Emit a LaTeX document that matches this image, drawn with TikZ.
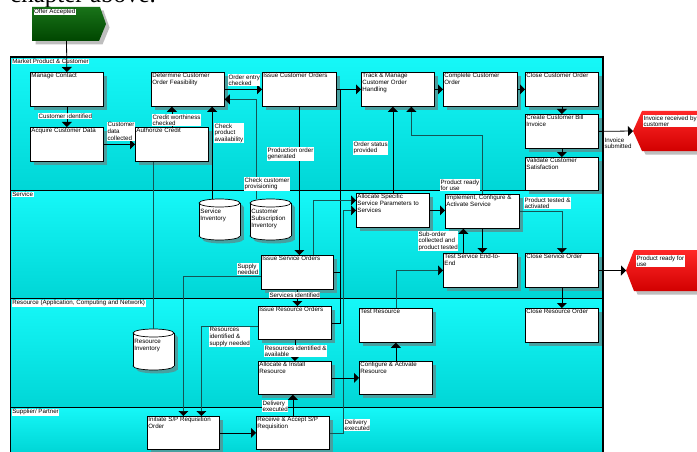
\documentclass[tikz,border=0pt]{standalone}
\usepackage{fontspec}
\setmainfont{Liberation Sans}
\newfontfamily\pagefont{Liberation Serif}
\usetikzlibrary{arrows.meta,shadows,calc}
\definecolor{cyanT}{RGB}{22,248,248}
\definecolor{cyanB}{RGB}{0,214,214}
\definecolor{shadowc}{RGB}{72,160,160}
\definecolor{shadowg}{RGB}{190,190,190}
\definecolor{tealline}{RGB}{20,85,85}
\definecolor{redT}{RGB}{255,40,40}
\definecolor{redB}{RGB}{210,0,0}
\definecolor{grnT}{RGB}{25,115,25}
\definecolor{grnB}{RGB}{0,70,0}
\newcommand\lblfont{\fontsize{6.2}{6.8}\selectfont}
\tikzset{
 proc/.style={draw=black, line width=0.8pt, fill=white, anchor=north west, inner sep=0pt,
   drop shadow={fill=shadowc, opacity=1, shadow xshift=3.5pt, shadow yshift=-3.5pt}},
 inlbl/.style={font=\lblfont, anchor=north west, inner sep=1.2pt, align=left},
 cl/.style={font=\lblfont, fill=white, inner sep=0.4pt, align=left, anchor=north west},
 lanelbl/.style={font=\lblfont, fill=white, inner sep=0.6pt, anchor=north west},
 conn/.style={draw=black, line width=0.8pt, -{Triangle[width=10pt,length=5pt]}},
 tconn/.style={draw=tealline, line width=0.6pt, -{Triangle[width=10pt,length=5pt,color=black]}},
 tline/.style={draw=tealline, line width=0.6pt},
 bline/.style={draw=black, line width=0.8pt},
 lane/.style={top color=cyanT, bottom color=cyanB, draw=black, line width=1pt},
 cyl/.style={draw=black, line width=0.7pt, fill=white},
 evshadow/.style={drop shadow={fill=shadowg, opacity=1, shadow xshift=3.5pt, shadow yshift=-3.5pt}},
 greenev/.style={top color=grnT, bottom color=grnB, evshadow},
 redev/.style={top color=redT, bottom color=redB, evshadow},
}
\newcommand\procbox[6]{\node[proc, minimum width=#4pt, minimum height=#5pt, label={[inlbl]north west:{#6}}] (#1) at (#2,#3) {};}
\newcommand\cylnode[4]{%
  \fill[shadowc] (#2+3.5,#3+7.5) rectangle (#2+44.5,#3+40.5);
  \fill[shadowc] (#2+24,#3+7.5) ellipse (20.5 and 4);
  \fill[shadowc] (#2+24,#3+40.5) ellipse (20.5 and 4);
  \filldraw[cyl] (#2+20.5,#3+37) ellipse (20.5 and 4);
  \fill[white] (#2,#3+4) rectangle (#2+41,#3+37);
  \draw[cyl] (#2,#3+4) -- (#2,#3+37) (#2+41,#3+4) -- (#2+41,#3+37);
  \filldraw[cyl] (#2+20.5,#3+4) ellipse (20.5 and 4);
  \node[inner sep=0pt, minimum width=41pt, minimum height=41pt, anchor=north west,
    label={[inlbl, yshift=-9pt]north west:{#4}}] (#1) at (#2,#3) {};}
\begin{document}
\begin{tikzpicture}[x=1pt,y=-1pt]
\useasboundingbox (0,0) rectangle (697,452);
\fill[white] (0,0) rectangle (697,452);
\node[font=\pagefont\fontsize{25}{25}\selectfont, anchor=base west, inner sep=0pt] (pg) at (10,3) {chapter above.};
% lanes
\path[lane] (10,57) rectangle (603,190);
\path[lane] (10,190) rectangle (603,298);
\path[lane] (10,298) rectangle (603,407);
\path[lane] (10,407) rectangle (603,452);
\draw[black, line width=1.6pt] (603,57) -- (603,452);
\draw[black, line width=1.4pt] (10,57) -- (603,57);
\node[lanelbl] (ln1) at (11.5,58.5) {Market Product \& Customer};
\node[lanelbl] (ln2) at (11.5,191.5) {Service};
\node[lanelbl] (ln3) at (11.5,299.5) {Resource (Application, Computing and Network)};
\node[lanelbl] (ln4) at (11.5,408.5) {Supplier/ Partner};
% external events
\path[greenev] (32,7) -- (100,7) -- (106,24) -- (99,41) -- (32,41) -- cycle;
\path[redev] (633,131) -- (642,111) -- (700,111) -- (700,151) -- (642,151) -- cycle;
\path[redev] (626,270.5) -- (634,250) -- (700,250) -- (700,291) -- (634,291) -- cycle;
\coordinate (oa) at (66.5,41);
\coordinate (inv) at (633,131);
\coordinate (prd) at (626,270.5);
% boxes
\procbox{mc}{30}{72}{73}{34}{Manage Contact}
\procbox{acq}{30}{127}{73}{34}{Acquire Customer Data}
\procbox{ac}{135}{127}{73}{34}{Authorize Credit}
\procbox{fe}{151}{72}{73}{34}{Determine Customer\\Order Feasibility}
\procbox{ico}{262}{72}{74}{34}{Issue Customer Orders}
\procbox{tm}{361}{72}{73}{34}{Track \& Manage\\Customer Order\\Handling}
\procbox{cco}{443}{72}{74}{34}{Complete Customer\\Order}
\procbox{clo}{525}{72}{73}{34}{Close Customer Order}
\procbox{cbi}{525}{114}{73}{34}{Create Customer Bill\\Invoice}
\procbox{vcs}{525}{157}{73}{33}{Validate Customer\\Satisfaction}
\procbox{asp}{356}{193}{73}{34}{Allocate Specific\\Service Parameters to\\Services}
\procbox{impl}{445}{194}{74}{34}{Implement, Configure \&\\Activate Service}
\procbox{iso}{261}{255}{72}{34}{Issue Service Orders}
\procbox{tse}{443}{253}{74}{34}{Test Service End-to-\\End}
\procbox{cso}{525}{253}{73}{34}{Close Service Order}
\procbox{iro}{258}{306}{73}{33}{Issue Resource Orders}
\procbox{tr}{359}{308}{73}{34}{Test Resource}
\procbox{cro}{525}{308}{73}{34}{Close Resource Order}
\procbox{ai}{258}{361}{73}{33}{Allocate \& Install\\Resource}
\procbox{car}{359}{361}{73}{33}{Configure \& Activate\\Resource}
\procbox{ispo}{147}{416}{72}{33}{Initiate S/P Requisition\\Order}
\procbox{ra}{256}{416}{73}{33}{Receive \& Accept S/P\\Requisition}
\cylnode{si}{199}{199}{Service\\Inventory}
\cylnode{csi}{250}{199}{Customer\\Subscription\\Inventory}
\cylnode{ri}{133}{329}{Resource\\Inventory}
% helper coordinates
\coordinate (j1) at ($(ico.east)+(4,0)$);
\coordinate (j2) at ($(asp.west)+(-13,0)$);
\coordinate (k1) at ($(tm.south)+(13.5,29)$);
% connectors
\draw[conn] (oa) -- (mc.north);
\draw[conn] (mc.south) -- (acq.north);
\draw[conn] (acq.east) -- (ac.west);
\draw[conn] (ac.north) -- (ac.north |- fe.south);
\draw[conn] ([xshift=-7.5pt]si.north) -- ([xshift=-7.5pt]si.north |- fe.south);
\draw[conn] (fe.east) -- (ico.west);
\draw[tconn] ([xshift=-14.5pt]csi.north) |- ([yshift=-10pt]fe.east);
\draw[conn] (ico.east) -- (tm.west);
\draw[conn] (ico.south) -- (ico.south |- iso.north);
\draw[bline] (j1) |- (iro.east);
\draw[bline] (iso.east) -- (iso.east -| j1);
\draw[tconn] (ra.east) -| (j2) -- (asp.west);
\draw[tconn] ([xshift=16pt]iso.north) |- ([yshift=10pt]asp.west);
\draw[conn] (asp.north) -- (asp.north |- tm.south);
\draw[tconn] (impl.north) |- (k1) -- (k1 |- tm.south);
\draw[conn] (tm.east) -- (cco.west);
\draw[conn] (cco.east) -- (clo.west);
\draw[conn] (clo.south) -- (cbi.north);
\draw[conn] (cbi.south) -- (vcs.north);
\draw[conn] (cbi.east) -- (inv);
\draw[conn] (asp.east) -- (asp.east -| impl.west);
\draw[conn] (impl.south) -- (impl.south |- tse.north);
\draw[conn] ([xshift=-17pt]tse.north) -- ([xshift=-17pt]tse.north |- impl.south);
\draw[tconn] (impl.east) -| (cso.north);
\draw[conn] (cso.east) -- (prd);
\draw[conn] (cso.south) -- (cro.north);
\draw[conn] (iso.south) -- (iso.south |- iro.north);
\draw[conn] (iro.south) -- (iro.south |- ai.north);
\draw[conn] (ai.east) -- (car.west);
\draw[conn] (car.north) -- (tr.south);
\draw[tconn] (tr.north) |- (tse.west);
\draw[conn] (ra.north) -- (ra.north |- ai.south);
\draw[conn] (ispo.east) -- (ra.west);
\draw[tconn] ([yshift=-4pt]iso.west) -| (ispo.north);
\draw[tconn] ([yshift=-3.5pt]iro.west) -| ([xshift=18pt]ispo.north);
\draw[tline] (ri.north |- ac.south) -- (ri.north);
% connector labels
\node[cl] (t1) at (38,113) {Customer identified};
\node[cl] (t2) at (107,122) {Customer\\data\\collected};
\node[cl] (t3) at (152,114) {Credit worthiness\\checked};
\node[cl] (t4) at (214,123) {Check\\product\\availability};
\node[cl] (t5) at (228,74) {Order entry\\checked};
\node[cl] (t6) at (244,177) {Check customer\\provisioning};
\node[cl] (t7) at (267,147) {Production order\\generated};
\node[cl] (t8) at (353,141) {Order status\\provided};
\node[cl] (t9) at (440,179) {Product ready\\for use};
\node[cl] (t10) at (604,137) {Invoice\\submitted};
\node[cl] (t11) at (418,231) {Sub-order\\collected and\\product tested};
\node[cl] (t12) at (524,197) {Product tested \&\\activated};
\node[cl] (t13) at (237,263) {Supply\\needed};
\node[cl] (t14) at (269,292) {Services identified};
\node[cl] (t15) at (209,327) {Resources\\identified \&\\supply needed};
\node[cl] (t16) at (264,345) {Resources identified \&\\available};
\node[cl] (t17) at (262,400) {Delivery\\executed};
\node[cl] (t18) at (344,419) {Delivery\\executed};
\node[cl] (t19) at (33.5,8.5) {Offer Accepted};
\node[cl] (t20) at (643,115) {Invoice received by\\customer};
\node[cl] (t21) at (636,255) {Product ready for\\use};
\end{tikzpicture}
\end{document}
